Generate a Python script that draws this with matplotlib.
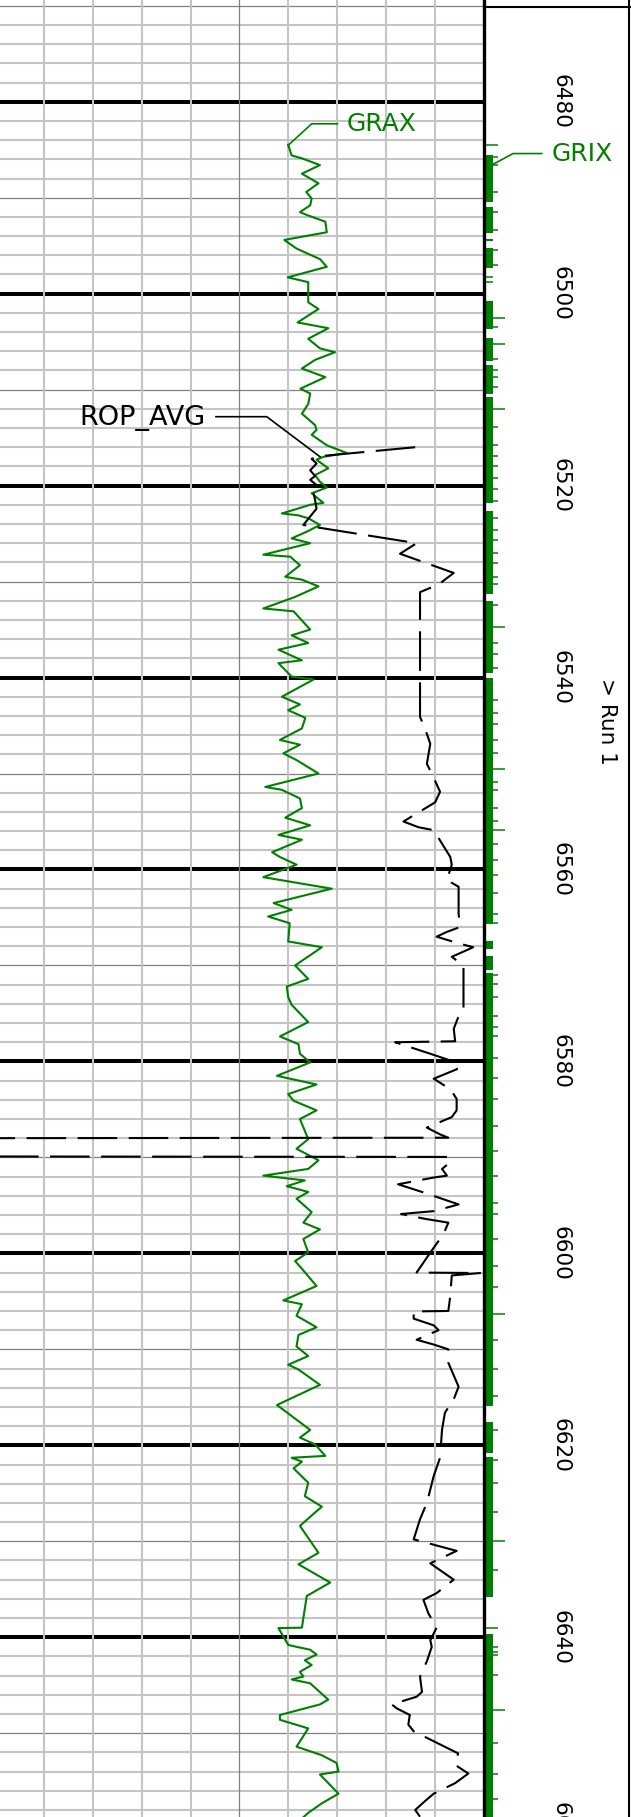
"""Well log strip: GRAX / ROP_AVG track with GRIX ticks and depth column."""
import matplotlib

matplotlib.use("Agg")
import matplotlib.pyplot as plt
import numpy as np

GRAX_DEPTH = [
    6484.5, 6485.6, 6485.9, 6486.6, 6487.5, 6488.5, 6489.4, 6490.1, 6490.8, 6491.5,
    6491.8, 6492.5, 6493.6, 6494.4, 6495.3, 6496.4, 6497.2, 6498.3, 6498.8, 6500.9,
    6501.6, 6503.0, 6503.6, 6504.7, 6505.7, 6506.1, 6506.9, 6507.8, 6508.7, 6509.9,
    6510.4, 6511.5, 6512.5, 6513.7, 6514.2, 6514.7, 6515.8, 6516.6, 6517.0, 6517.3,
    6518.2, 6518.9, 6519.6, 6520.2, 6520.8, 6521.8, 6522.0, 6522.9, 6523.1, 6523.4,
    6524.1, 6524.8, 6525.5, 6526.0, 6527.2, 6527.4, 6528.3, 6529.5, 6529.8, 6530.5,
    6531.6, 6532.8, 6533.1, 6535.0, 6535.6, 6536.4, 6537.1, 6538.2, 6538.5, 6539.9,
    6540.2, 6542.0, 6542.8, 6543.4, 6544.2, 6545.3, 6546.5, 6547.0, 6547.9, 6548.6,
    6550.0, 6551.4, 6551.7, 6552.6, 6553.6, 6554.6, 6555.4, 6556.4, 6556.9, 6558.2,
    6558.7, 6559.5, 6560.8, 6562.0, 6563.5, 6564.2, 6564.9, 6565.6, 6567.5, 6568.1,
    6570.0, 6571.4, 6572.2, 6573.3, 6574.1, 6575.9, 6576.6, 6577.4, 6578.2, 6579.2,
    6580.1, 6581.5, 6582.4, 6583.4, 6584.1, 6585.1, 6586.0, 6588.1, 6589.1, 6590.3,
    6591.2, 6591.9, 6592.4, 6593.0, 6593.6, 6594.3, 6595.7, 6596.8, 6597.5, 6598.5,
    6599.9, 6600.8, 6601.6, 6603.4, 6604.9, 6605.3, 6606.5, 6607.7, 6608.5, 6609.7,
    6610.7, 6611.6, 6612.1, 6613.7, 6615.8, 6618.4, 6619.2, 6619.9, 6621.1, 6621.3,
    6621.7, 6622.4, 6623.9, 6625.3, 6626.4, 6627.0, 6628.4, 6631.2, 6632.4, 6634.3,
    6635.7, 6639.0, 6639.05, 6640.8, 6641.0, 6641.3, 6641.8, 6642.4, 6642.9, 6643.6,
    6644.1, 6644.4, 6644.8, 6646.5, 6647.0, 6648.1, 6648.6, 6649.5, 6651.4, 6652.3,
    6653.1, 6654.0, 6654.3, 6656.3, 6657.3, 6658.3, 6658.8,
]
GRAX_VAL = [
    60.0, 60.7, 62.8, 66.5, 62.8, 66.2, 63.7, 64.8, 64.5, 62.4,
    63.8, 67.6, 67.9, 59.2, 61.7, 66.5, 67.9, 59.9, 64.1, 64.1,
    66.2, 61.9, 68.2, 64.1, 66.5, 69.6, 65.5, 62.8, 67.6, 62.5,
    64.5, 64.1, 62.8, 65.5, 65.8, 64.8, 67.9, 72.0, 67.2, 65.8,
    68.2, 65.5, 66.5, 67.9, 64.8, 67.2, 64.5, 58.7, 62.1, 64.1,
    66.5, 63.8, 60.7, 64.5, 54.9, 60.4, 62.4, 59.4, 62.8, 66.2,
    61.4, 54.9, 61.1, 64.5, 60.7, 64.1, 58.0, 62.8, 58.0, 60.7,
    65.2, 58.7, 62.4, 60.0, 63.5, 62.8, 58.3, 62.4, 59.0, 61.7,
    66.2, 55.3, 58.7, 62.4, 62.8, 59.4, 64.5, 58.0, 62.8, 56.7,
    58.3, 61.7, 54.9, 68.9, 57.0, 60.7, 55.9, 60.3, 60.0, 66.9,
    61.4, 64.1, 59.7, 60.0, 60.7, 64.1, 61.4, 58.3, 62.1, 62.4,
    64.5, 57.7, 65.8, 60.0, 61.1, 65.8, 62.4, 64.1, 61.7, 66.2,
    64.1, 54.9, 63.4, 59.7, 64.1, 61.7, 64.8, 63.1, 66.5, 63.1,
    64.1, 61.4, 62.8, 65.8, 59.0, 62.8, 61.7, 65.8, 62.1, 61.7,
    64.1, 60.0, 62.1, 66.5, 57.7, 64.5, 62.4, 65.5, 67.6, 60.7,
    62.8, 61.1, 64.1, 63.4, 66.9, 65.5, 62.4, 66.2, 62.1, 68.6,
    63.8, 62.8, 58.0, 60.0, 61.7, 64.5, 65.8, 63.4, 64.8, 62.4,
    63.1, 60.7, 64.5, 68.2, 66.5, 58.3, 58.3, 64.1, 61.7, 66.9,
    69.9, 70.3, 66.5, 70.3, 66.9, 64.1, 63.0,
]

ROP_DEPTH = [
    6516.0, 6516.9, 6517.2, 6517.7, 6518.4, 6519.0, 6519.4, 6520.1, 6520.8, 6521.5,
    6522.4, 6524.1, 6524.4, 6526.0, 6527.1, 6529.1, 6530.3, 6531.1, 6544.1, 6545.3,
    6546.9, 6549.0, 6550.0, 6551.9, 6553.0, 6555.0, 6555.6, 6555.9, 6558.7, 6559.5,
    6561.1, 6561.8, 6564.6, 6566.0, 6566.5, 6567.0, 6567.7, 6568.1, 6569.1, 6570.0,
    6574.7, 6575.3, 6576.6, 6577.9, 6578.0, 6579.2, 6579.9, 6580.8, 6581.8, 6582.9,
    6583.9, 6585.1, 6585.8, 6586.9, 6587.6, 6587.95, 6588.0, 6589.9, 6589.95, 6590.5,
    6591.2, 6591.9, 6592.1, 6592.8, 6593.6, 6594.9, 6595.6, 6595.9, 6596.4, 6596.8,
    6598.0, 6599.7, 6602.0, 6602.05, 6602.3, 6604.4, 6606.0, 6606.05, 6606.8, 6607.5,
    6608.0, 6609.0, 6609.5, 6610.0, 6611.4, 6613.9, 6615.2, 6616.6, 6618.4, 6621.3,
    6623.2, 6626.0, 6627.7, 6629.8, 6631.0, 6632.3, 6634.0, 6635.4, 6636.1, 6637.5,
    6639.0, 6640.3, 6641.0, 6642.5, 6644.1, 6645.7, 6646.2, 6647.0, 6647.4, 6648.1,
    6649.1, 6649.8, 6652.1, 6653.3, 6654.2, 6655.2, 6656.3, 6656.9, 6658.0, 6658.7,
]
ROP_VAL = [
    14.0, 32.8, 35.2, 34.2, 35.5, 34.5, 35.5, 33.8, 34.8, 34.5,
    34.2, 36.9, 33.5, 13.7, 17.1, 6.1, 9.2, 13.0, 13.0, 12.0,
    10.9, 11.6, 10.6, 8.9, 9.9, 16.4, 13.3, 10.2, 6.8, 6.5,
    7.5, 5.1, 5.1, 4.8, 7.5, 9.6, 5.1, 2.1, 6.5, 4.1,
    4.1, 5.1, 6.1, 5.8, 18.1, 10.9, 6.8, 5.4, 10.2, 6.8,
    5.5, 5.5, 6.5, 11.6, 8.9, 7.2, 108.0, 108.0, 7.2, 6.8,
    8.5, 7.5, 10.2, 17.5, 12.6, 5.1, 10.2, 16.9, 12.0, 7.2,
    8.2, 10.6, 13.7, 0.7, 6.5, 6.8, 7.2, 14.3, 14.3, 10.2,
    9.2, 13.7, 10.2, 7.2, 7.2, 5.1, 6.1, 7.9, 8.5, 8.9,
    10.2, 11.6, 13.0, 14.3, 5.5, 10.9, 6.1, 9.6, 12.3, 11.3,
    9.6, 10.9, 10.6, 11.6, 13.0, 12.6, 13.7, 18.8, 17.8, 15.1,
    15.4, 14.3, 5.2, 5.8, 3.1, 5.8, 10.2, 11.6, 14.0, 13.0,
]

# GRIX: solid base band intervals plus individual longer ticks
GRIX_BAND_TOP = [6485.5, 6491.0, 6494.3, 6495.2, 6500.8, 6504.6, 6507.4, 6510.8, 6522.6,
                 6532.0, 6540.0, 6567.5, 6569.0, 6570.8, 6617.6, 6621.2, 6639.7]
GRIX_BAND_BASE = [6490.5, 6493.7, 6494.5, 6497.3, 6503.7, 6507.0, 6510.5, 6521.8, 6531.3,
                  6539.5, 6565.7, 6568.3, 6570.5, 6615.9, 6620.8, 6635.8, 6658.8]
GRIX_TICK_DEPTH = [
    6484.5, 6485.8, 6486.6, 6489.4, 6491.5, 6493.4, 6494.4, 6495.5, 6497.0, 6498.3,
    6498.8, 6502.5, 6503.5, 6505.2, 6506.8, 6508.0, 6508.7, 6509.7, 6512.0, 6513.9,
    6515.8, 6516.9, 6518.0, 6519.2, 6520.4, 6521.6, 6523.4, 6524.6, 6525.7, 6527.0,
    6528.1, 6529.5, 6530.3, 6532.4, 6534.7, 6536.4, 6537.5, 6539.0, 6542.3, 6543.7,
    6544.8, 6546.5, 6547.9, 6549.5, 6550.9, 6551.7, 6553.6, 6554.9, 6555.9, 6557.3,
    6559.0, 6560.6, 6562.5, 6564.6, 6565.6, 6567.9, 6571.0, 6571.9, 6573.3, 6575.3,
    6576.4, 6577.3, 6579.6, 6581.7, 6583.9, 6586.7, 6589.3, 6591.9, 6594.7, 6595.9,
    6598.5, 6601.3, 6603.5, 6606.3, 6609.0, 6612.1, 6614.9, 6618.4, 6621.5, 6623.9,
    6626.9, 6630.0, 6633.0, 6635.7, 6639.0, 6641.0, 6641.5, 6641.9, 6643.9, 6647.6,
    6651.0, 6654.3, 6656.9,
]
GRIX_TICK_LEN = [
    14, 14, 14, 14, 14, 14, 9, 14, 14, 9,
    9, 21, 14, 21, 14, 14, 14, 14, 21, 14,
    14, 14, 14, 14, 14, 14, 14, 14, 14, 14,
    14, 14, 14, 14, 21, 14, 14, 14, 14, 14,
    14, 14, 14, 21, 14, 14, 14, 14, 21, 14,
    14, 14, 14, 14, 14, 9, 14, 14, 14, 14,
    14, 14, 14, 14, 14, 14, 14, 14, 14, 14,
    14, 14, 14, 21, 14, 14, 14, 14, 14, 14,
    14, 21, 14, 9, 14, 14, 14, 14, 14, 21,
    14, 14, 14,
]

DEPTH_LABELS = [6480, 6500, 6520, 6540, 6560, 6580, 6600, 6620, 6640, 6660]

# ---- layout ---------------------------------------------------------------- #
W, H = 631, 1817
PX_PER_FT = 9.597
TOP_DEPTH = 6469.40
BOT_DEPTH = TOP_DEPTH + H / PX_PER_FT
GREEN = "#008000"
LIGHT = "#c4c4c4"
DARK = "#808080"

fig = plt.figure(figsize=(W / 100, H / 100), dpi=100)
fig.patch.set_facecolor("white")

# main track: 0..100 across, left edge slightly off the picture
ax = fig.add_axes([-4.7 / W, 0, 488.2 / W, 1])
ax.set_xlim(0, 100)
ax.set_ylim(BOT_DEPTH, TOP_DEPTH)
# depth column, x in pixels from the track border
ax_d = fig.add_axes([483.5 / W, 0, (W - 483.5) / W, 1])
ax_d.set_xlim(0, W - 483.5)
ax_d.set_ylim(BOT_DEPTH, TOP_DEPTH)
for a in (ax, ax_d):
    a.set_xticks([])
    a.set_yticks([])
    for s in a.spines.values():
        s.set_visible(False)

# grid
for d in np.arange(6470, 6662, 2):
    if d % 20 == 0:
        ax.axhline(d, color="black", lw=2.9, zorder=1)
    elif d % 10 == 0:
        ax.axhline(d, color=DARK, lw=0.9, zorder=1.2)
    else:
        ax.axhline(d, color=LIGHT, lw=1.5, zorder=1.1)
for v in range(10, 100, 10):
    ax.axvline(v, color=DARK if v == 50 else LIGHT,
               lw=0.9 if v == 50 else 1.5, zorder=1.5)

# borders
ax_d.axvline(0, color="black", lw=2.4, zorder=6, clip_on=False)
ax_d.axvline(145.2, color="black", lw=1.5, zorder=6)
ax_d.axhline(6470.1, color="black", lw=1.5, zorder=6)

# curves
ax.plot(GRAX_VAL, GRAX_DEPTH, color=GREEN, lw=1.5, zorder=4)

ax_r = ax.twiny()
ax_r.set_xlim(100, 0)
ax_r.set_ylim(BOT_DEPTH, TOP_DEPTH)
ax_r.set_xticks([])
for s in ax_r.spines.values():
    s.set_visible(False)
ax_r.patch.set_visible(False)
ax_r.plot(ROP_VAL, ROP_DEPTH, color="black", lw=1.5, ls=(0, (19, 5.5)), zorder=5)

# GRIX ticks in the depth column
for top, base in zip(GRIX_BAND_TOP, GRIX_BAND_BASE):
    ax_d.fill_betweenx([top, base], 0, 9.5, color=GREEN, lw=0, zorder=3)
ax_d.hlines(GRIX_TICK_DEPTH, 0, GRIX_TICK_LEN, color=GREEN, lw=1.1, zorder=3)

# curve labels with leaders
ax.plot([60.0, 64.8, 70.1], [6484.54, 6482.3, 6482.3], color=GREEN, lw=1.2, zorder=4)
ax.text(72.0, 6482.3, "GRAX", color=GREEN, fontsize=18, va="center", ha="left")
ax_d.plot([8.2, 29.5, 58.2], [6486.6, 6485.4, 6485.4], color=GREEN, lw=1.2, zorder=4)
ax_d.text(68.2, 6485.4, "GRIX", color=GREEN, fontsize=18, va="center", ha="left")
ax.plot([45.2, 55.6, 66.5], [6512.82, 6512.82, 6516.99], color="black", lw=1.2, zorder=5)
ax.text(43.1, 6512.96, "ROP_AVG", color="black", fontsize=19.5, va="center", ha="right")

# depth labels
for d in DEPTH_LABELS:
    ax_d.text(77.5, d, str(d), rotation=270, fontsize=15.5, ha="center", va="center")
ax_d.text(123.2, 6544.6, "> Run 1", rotation=270, fontsize=15.5, ha="center", va="center")

fig.savefig("out.png", dpi=100)
